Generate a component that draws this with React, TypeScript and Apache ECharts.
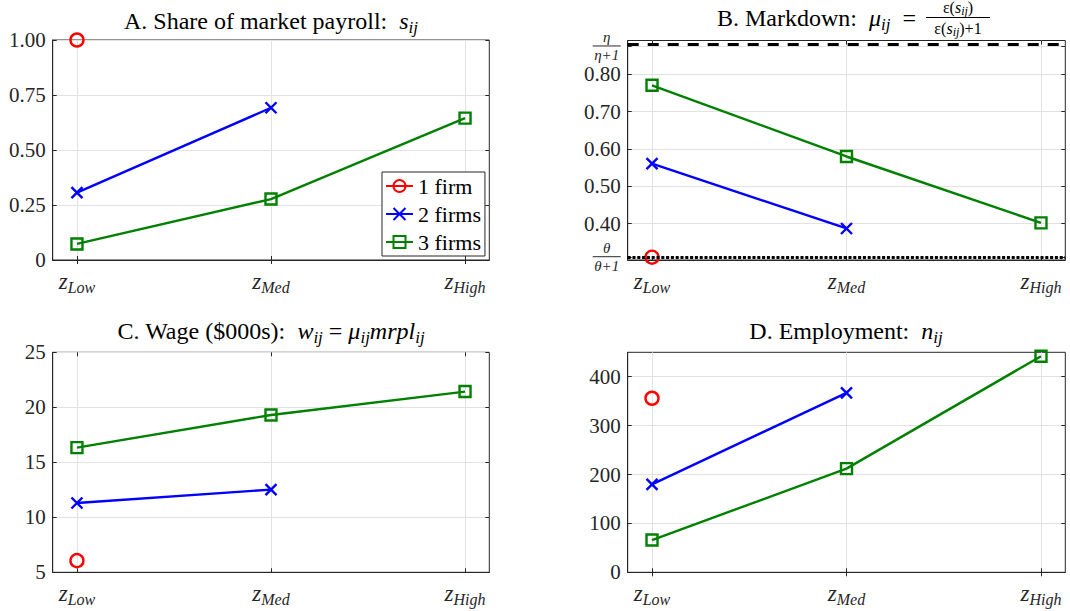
import React, { useEffect, useRef } from 'react';
import * as echarts from 'echarts';

// ---------- data ----------
const categories = ['Low', 'Med', 'High'];
const categoryPositions = [1, 2, 3];
const seriesNames = ['1 firm', '2 firms', '3 firms'];

const shareOneFirm = [1.0];
const shareTwoFirms = [0.306, 0.692];
const shareThreeFirms = [0.073, 0.277, 0.645];

const markdownOneFirm = [0.31];
const markdownTwoFirms = [0.561, 0.387];
const markdownThreeFirms = [0.771, 0.58, 0.402];
const etaRatio = 0.875;
const thetaRatio = 0.31;

const wageOneFirm = [6.06];
const wageTwoFirms = [11.3, 12.52];
const wageThreeFirms = [16.33, 19.3, 21.43];

const employmentOneFirm = [356];
const employmentTwoFirms = [180, 367];
const employmentThreeFirms = [66, 212, 442];

const shareTicks = [0, 0.25, 0.5, 0.75, 1];
const markdownTicks = [thetaRatio, 0.4, 0.5, 0.6, 0.7, 0.8, etaRatio];
const wageTicks = [5, 10, 15, 20, 25];
const employmentTicks = [0, 100, 200, 300, 400];

// ---------- styles ----------
const FONT = 'Liberation Serif';
const AXIS_COLOR = '#262626';
const GRID_COLOR = '#e2e2e2';
const TICK_FONT = 21;

const markerStyles = [
  { color: '#ff0000', symbol: 'circle', size: 13 },
  { color: '#0000ff', symbol: 'path://M0,0L10,10M10,0L0,10', size: 11 },
  { color: '#008000', symbol: 'rect', size: 11 },
];

const grids = [
  { left: 52.7, top: 40, width: 436.6, height: 220 },
  { left: 627.7, top: 40.5, width: 437.6, height: 219.5 },
  { left: 52.7, top: 352.3, width: 436.6, height: 220 },
  { left: 627.7, top: 352.3, width: 437.6, height: 220 },
];

const near = (a: number, b: number) => Math.abs(a - b) < 1e-6;

const markdownFormat = (v: number) => {
  if (near(v, etaRatio)) return '{n|η}\n{bar| }\n{d|η+1}';
  if (near(v, thetaRatio)) return '{n|θ}\n{bar| }\n{d|θ+1}';
  return v.toFixed(2);
};

const panels = [
  { yMin: 0, yMax: 1, ticks: shareTicks, fmt: (v: number) => (v === 0 ? '0' : v.toFixed(2)), values: [shareOneFirm, shareTwoFirms, shareThreeFirms] },
  { yMin: 0.3025, yMax: 0.891, ticks: markdownTicks, fmt: markdownFormat, values: [markdownOneFirm, markdownTwoFirms, markdownThreeFirms] },
  { yMin: 5, yMax: 25, ticks: wageTicks, fmt: (v: number) => String(v), values: [wageOneFirm, wageTwoFirms, wageThreeFirms] },
  { yMin: 0, yMax: 450, ticks: employmentTicks, fmt: (v: number) => String(v), values: [employmentOneFirm, employmentTwoFirms, employmentThreeFirms] },
];

const xLabelRich = {
  z: { fontFamily: FONT, fontSize: 23, fontStyle: 'italic', color: AXIS_COLOR },
  sub: { fontFamily: FONT, fontSize: 16, fontStyle: 'italic', color: AXIS_COLOR, padding: [12, 0, 0, 0] },
};

const yLabelRich = {
  n: { fontFamily: FONT, fontSize: 15, fontStyle: 'italic', color: AXIS_COLOR, width: 28, align: 'center', lineHeight: 14 },
  bar: { fontFamily: FONT, fontSize: 1, width: 28, height: 1, lineHeight: 3, backgroundColor: AXIS_COLOR },
  d: { fontFamily: FONT, fontSize: 15, fontStyle: 'italic', color: AXIS_COLOR, width: 28, align: 'center', lineHeight: 15 },
};

function buildOption() {
  const xAxis: any[] = [];
  const yAxis: any[] = [];
  const series: any[] = [];

  panels.forEach((p, gi) => {
    const tickStyle = { show: true, inside: true, length: 4, lineStyle: { color: AXIS_COLOR, width: 1 } };
    xAxis.push({
      type: 'value', gridIndex: gi, min: 0.875, max: 3.125, position: 'bottom',
      axisLine: { show: true, lineStyle: { color: AXIS_COLOR, width: 1 } },
      axisTick: { ...tickStyle, customValues: categoryPositions },
      axisLabel: {
        customValues: categoryPositions, margin: 7,
        formatter: (v: number) => `{z|z}{sub|${categories[Math.round(v) - 1]}}`,
        rich: xLabelRich,
      },
      splitLine: { show: true, lineStyle: { color: GRID_COLOR, width: 1 } },
    });
    xAxis.push({
      type: 'value', gridIndex: gi, min: 0.875, max: 3.125, position: 'top',
      axisLine: { show: false },
      axisTick: { ...tickStyle, customValues: categoryPositions },
      axisLabel: { show: false },
      splitLine: { show: false },
    });
    yAxis.push({
      type: 'value', gridIndex: gi, min: p.yMin, max: p.yMax, position: 'left',
      axisLine: { show: true, lineStyle: { color: AXIS_COLOR, width: 1 } },
      axisTick: { ...tickStyle, customValues: p.ticks },
      axisLabel: {
        customValues: p.ticks, margin: 7, formatter: p.fmt,
        fontFamily: FONT, fontSize: TICK_FONT, color: AXIS_COLOR, rich: yLabelRich,
      },
      splitLine: { show: true, lineStyle: { color: GRID_COLOR, width: 1 } },
    });
    yAxis.push({
      type: 'value', gridIndex: gi, min: p.yMin, max: p.yMax, position: 'right',
      axisLine: { show: false },
      axisTick: { ...tickStyle, customValues: p.ticks },
      axisLabel: { show: false },
      splitLine: { show: false },
    });

    p.values.forEach((vals, si) => {
      const m = markerStyles[si];
      const s: any = {
        type: 'line', name: seriesNames[si], xAxisIndex: gi * 2, yAxisIndex: gi * 2,
        data: vals.map((v, i) => [categoryPositions[i], v]),
        symbol: m.symbol, symbolSize: m.size, showSymbol: true, showAllSymbol: true,
        lineStyle: { color: m.color, width: 2.4 },
        itemStyle: { color: 'transparent', borderColor: m.color, borderWidth: 2.4 },
        emphasis: { disabled: true }, silent: true, z: 3,
      };
      if (gi === 1 && si === 0) {
        s.markLine = {
          silent: true, symbol: 'none', label: { show: false }, emphasis: { disabled: true },
          data: [
            { yAxis: etaRatio, lineStyle: { type: [11, 9], width: 3, color: '#000' } },
            { yAxis: thetaRatio, lineStyle: { type: [3, 1.8], width: 3, color: '#000' } },
          ],
        };
      }
      series.push(s);
    });
  });

  const titleBase = { fontFamily: FONT, fontSize: 24, fill: '#000', align: 'center', verticalAlign: 'middle' };
  const titleRich = {
    i: { fontFamily: FONT, fontSize: 24, fontStyle: 'italic', fill: '#000' },
    s: { fontFamily: FONT, fontSize: 17, fontStyle: 'italic', fill: '#000', padding: [12, 0, 0, 0] },
    r: { fontFamily: FONT, fontSize: 16, fill: '#000' },
    fi: { fontFamily: FONT, fontSize: 16, fontStyle: 'italic', fill: '#000' },
    fs: { fontFamily: FONT, fontSize: 12, fontStyle: 'italic', fill: '#000', padding: [7, 0, 0, 0] },
  };

  const graphic = [
    { type: 'text', x: 271, y: 21, style: { ...titleBase, text: 'A. Share of market payroll:  {i|s}{s|ij}', rich: titleRich } },
    { type: 'text', x: 916, y: 18, style: { ...titleBase, align: 'right', text: 'B. Markdown:  {i|μ}{s|ij}  =', rich: titleRich } },
    { type: 'text', x: 958, y: 7, style: { ...titleBase, text: '{r|ε(}{fi|s}{fs|ij}{r|)}', rich: titleRich } },
    { type: 'line', shape: { x1: 926, y1: 17.5, x2: 990, y2: 17.5 }, style: { stroke: '#000', lineWidth: 1 } },
    { type: 'text', x: 958, y: 28, style: { ...titleBase, text: '{r|ε(}{fi|s}{fs|ij}{r|)+1}', rich: titleRich } },
    { type: 'text', x: 271, y: 331, style: { ...titleBase, text: 'C. Wage ($000s):  {i|w}{s|ij} = {i|μ}{s|ij}{i|mrpl}{s|ij}', rich: titleRich } },
    { type: 'text', x: 846, y: 331, style: { ...titleBase, text: 'D. Employment:  {i|n}{s|ij}', rich: titleRich } },
  ];

  return {
    animation: false,
    backgroundColor: '#ffffff',
    textStyle: { fontFamily: FONT },
    grid: grids.map((g) => ({ ...g, show: true, borderColor: AXIS_COLOR, borderWidth: 1, backgroundColor: 'transparent', containLabel: false, outerBoundsMode: 'none' })),
    xAxis, yAxis, series, graphic,
    legend: {
      data: seriesNames, orient: 'vertical', left: 382, top: 172,
      itemWidth: 27, itemHeight: 15, itemGap: 6,
      padding: [3, 4, 3, 3], borderColor: AXIS_COLOR, borderWidth: 1, backgroundColor: '#ffffff',
      textStyle: { fontFamily: FONT, fontSize: 22, color: '#000' }, selectedMode: false,
    },
  };
}

export default function App() {
  const ref = useRef<HTMLDivElement>(null);
  useEffect(() => {
    if (!ref.current) return;
    const chart = echarts.init(ref.current, null, { renderer: 'svg' });
    chart.setOption(buildOption() as any);
    return () => chart.dispose();
  }, []);
  return <div ref={ref} style={{ position: 'fixed', left: 0, top: 0, width: 1070, height: 611, background: '#fff' }} />;
}
